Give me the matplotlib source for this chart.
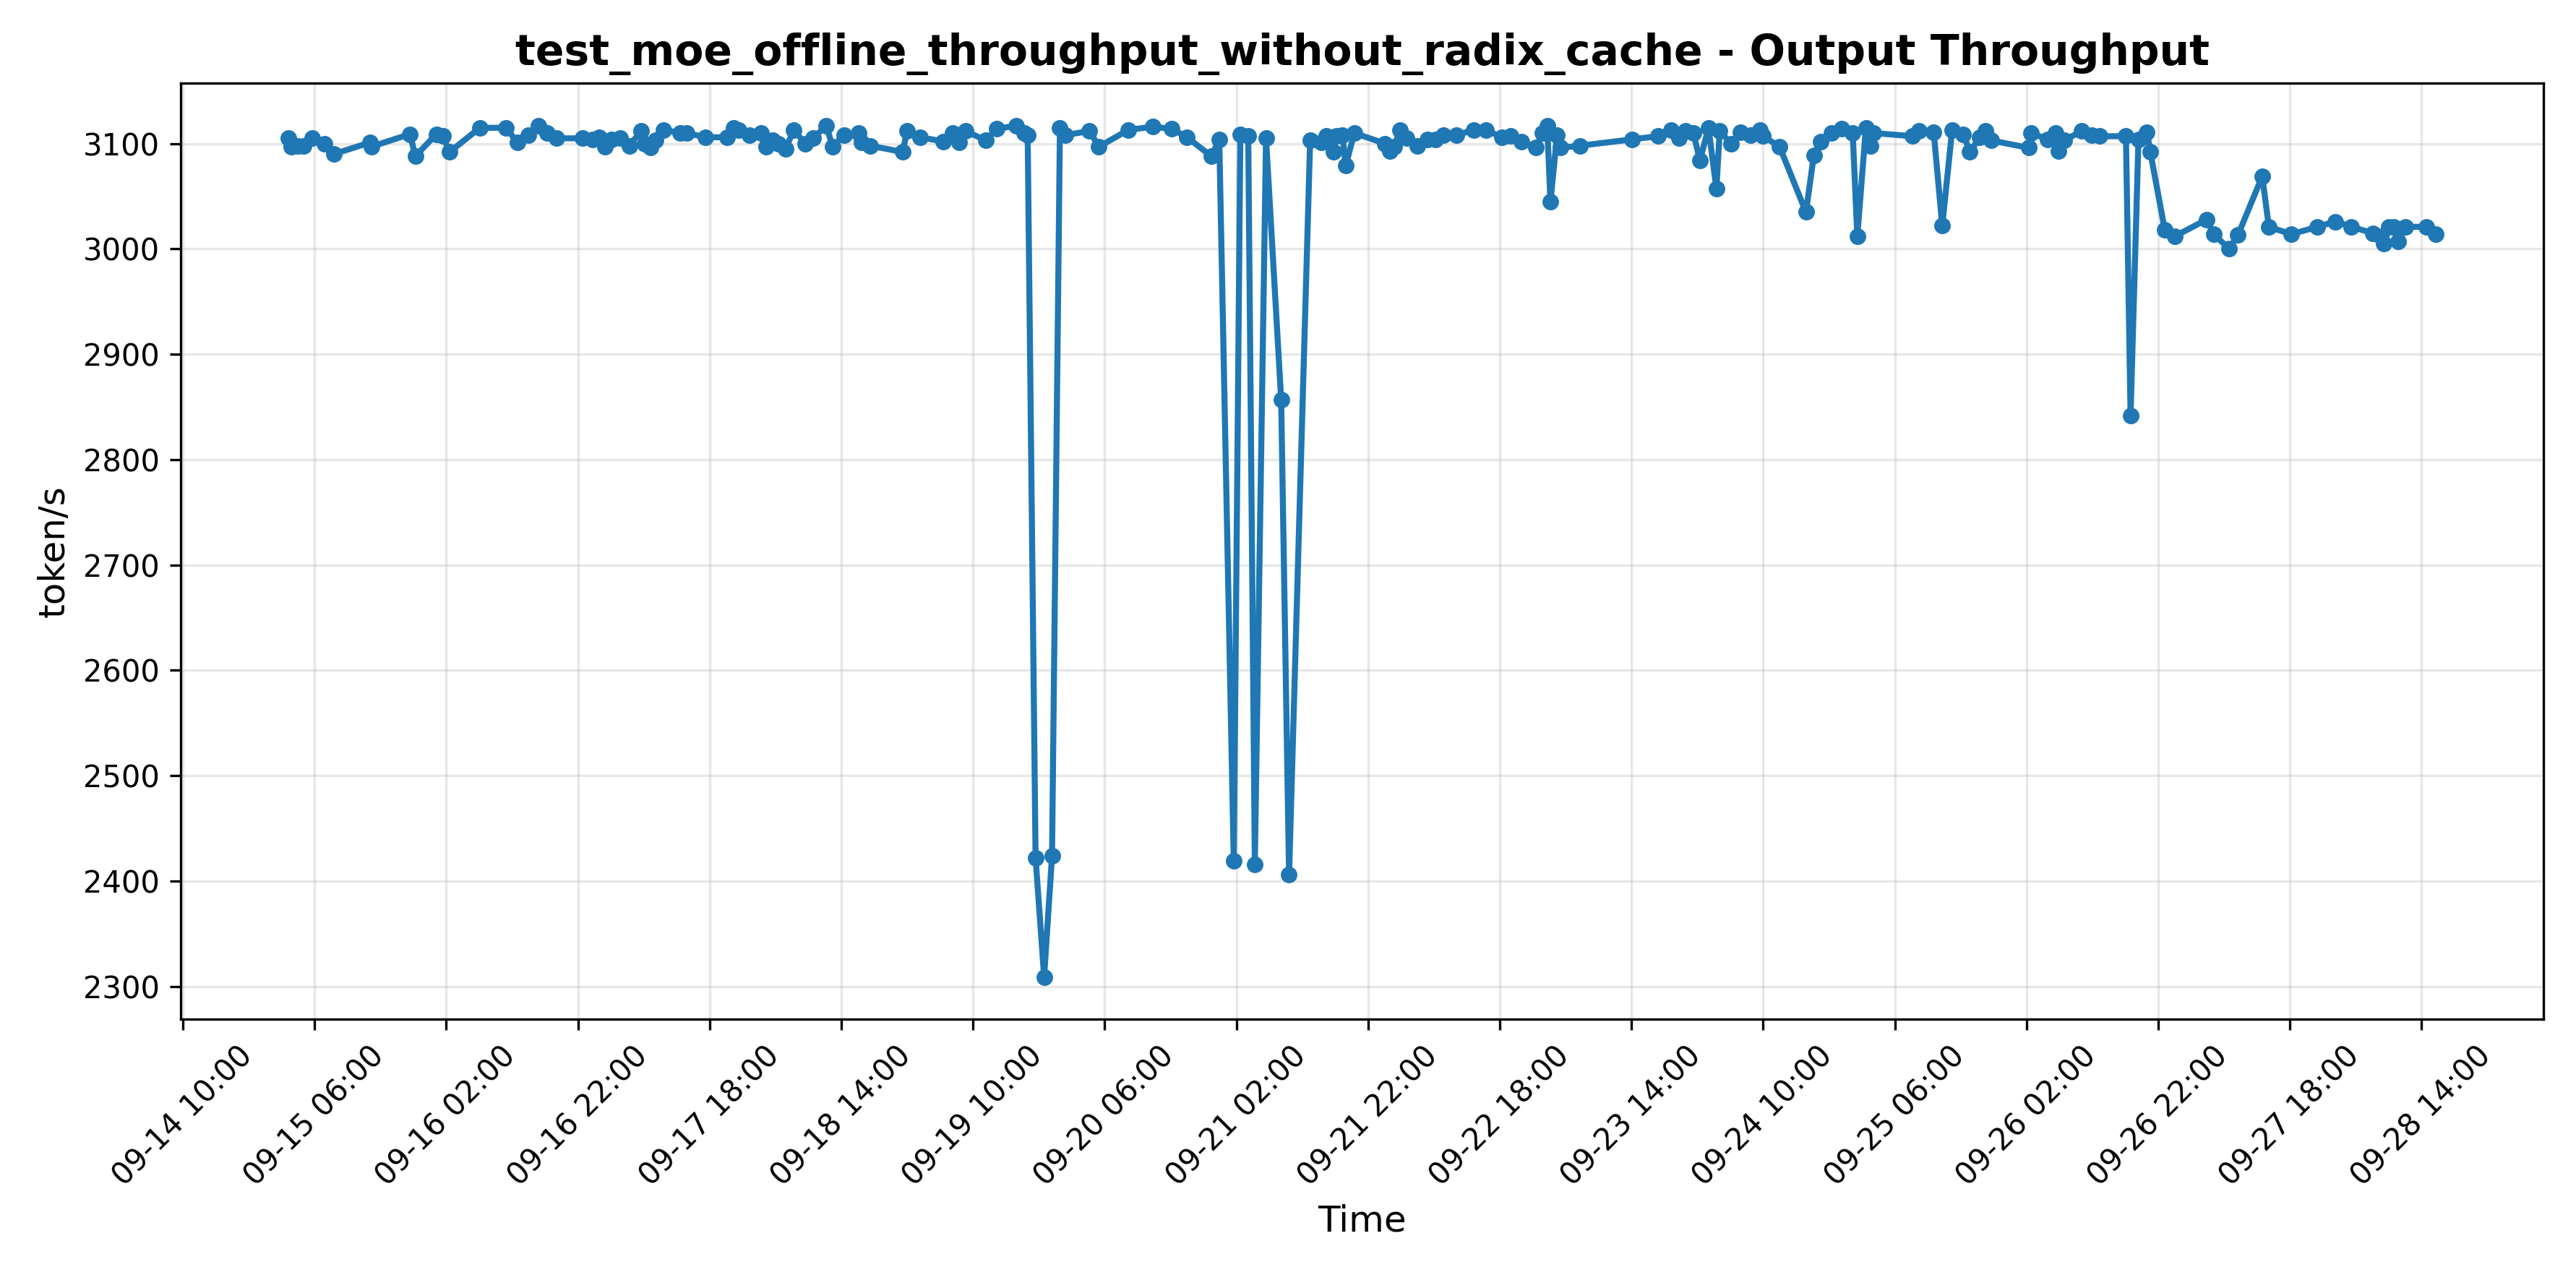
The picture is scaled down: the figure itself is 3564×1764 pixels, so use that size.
import matplotlib
matplotlib.use('Agg')
import matplotlib.pyplot as plt
import matplotlib.dates as mdates
import pandas as pd

START = pd.Timestamp('2025-09-14 10:00')

# hours since 09-14 10:00
hours = [16.0, 16.5, 17.5, 18.3, 19.7, 21.5, 22.9, 28.4, 28.6, 34.5, 35.3, 38.5, 39.5, 40.5,
         45.1, 49.1, 50.8, 52.5, 54.0, 55.3, 56.7, 60.7, 62.2, 63.2, 64.1, 65.1, 66.4, 67.8,
         69.6, 70.1, 71.0, 71.8, 73.0, 75.5, 76.5, 79.4, 82.6, 83.6, 84.4, 86.1, 87.8, 88.6,
         89.6, 90.5, 91.5, 92.8, 94.5, 95.7, 97.7, 98.7, 100.4, 102.6, 103.1, 104.4, 109.3,
         110.0, 112.0, 115.5, 116.9, 117.9, 118.9, 121.9, 123.6, 126.6, 127.8, 128.3, 129.5,
         130.8, 132.0, 133.2, 134.0, 137.7, 139.1, 143.6, 147.3, 150.2, 152.5, 156.2, 157.4,
         159.6, 160.6, 161.8, 162.8, 164.5, 166.8, 168.0, 171.2, 172.9, 173.7, 174.7, 175.2,
         176.1, 176.6, 177.9, 182.6, 183.3, 184.0, 184.8, 185.8, 187.5, 189.0, 190.2, 191.4,
         193.4, 196.1, 197.9, 200.3, 201.6, 203.3, 205.5, 206.5, 207.2, 207.7, 208.7, 209.2,
         212.2, 220.1, 224.0, 226.0, 227.2, 228.2, 229.4, 230.4, 231.7, 232.9, 233.4, 235.1,
         236.6, 238.1, 239.5, 240.0, 242.5, 246.5, 247.7, 248.7, 250.4, 251.9, 253.6, 254.3,
         255.6, 256.3, 256.8, 262.7, 263.7, 265.9, 267.2, 268.7, 270.4, 271.4, 272.9, 273.8,
         274.6, 280.3, 280.7, 283.2, 284.4, 284.9, 285.7, 288.4, 289.9, 291.1, 295.1, 295.8,
         297.0, 298.3, 298.8, 301.0, 302.5, 307.4, 308.4, 310.8, 312.1, 315.8, 316.8, 320.2,
         324.2, 326.9, 329.3, 332.6, 333.8, 334.3, 335.0, 335.8, 336.5, 337.5, 340.7, 342.2]

throughput = [3105, 3097, 3098, 3098, 3105, 3100, 3090, 3101, 3097, 3109, 3088, 3109, 3107, 3092,
              3115, 3115, 3101, 3108, 3117, 3110, 3105, 3105, 3104, 3106, 3097, 3104, 3105, 3098,
              3112, 3100, 3096, 3103, 3113, 3110, 3110, 3106, 3106, 3115, 3113, 3108, 3110, 3097,
              3103, 3100, 3095, 3113, 3100, 3105, 3117, 3097, 3108, 3110, 3101, 3098, 3092,
              3112, 3106, 3102, 3110, 3101, 3112, 3103, 3114, 3117, 3110, 3108, 2422,
              2309, 2424, 3115, 3108, 3112, 3097, 3113, 3116, 3114, 3106, 3088, 3104,
              2419, 3109, 3107, 2416, 3105, 2857, 2406, 3103, 3101, 3107, 3092, 3107,
              3108, 3079, 3110, 3100, 3093, 3097, 3113, 3105, 3098, 3104, 3104, 3108,
              3108, 3113, 3113, 3106, 3107, 3102, 3096, 3110, 3117, 3045, 3108, 3096,
              3098, 3104, 3107, 3113, 3105, 3112, 3110, 3084, 3115, 3057, 3112, 3100,
              3111, 3108, 3113, 3107, 3097, 3035, 3089, 3102, 3110, 3114, 3110, 3012,
              3115, 3098, 3110, 3107, 3112, 3111, 3022, 3113, 3109, 3092, 3106, 3112,
              3103, 3096, 3110, 3104, 3110, 3093, 3103, 3112, 3108, 3107, 3107, 2842,
              3104, 3111, 3092, 3018, 3012, 3028, 3014, 3000, 3013, 3069, 3021, 3014,
              3021, 3026, 3021, 3015, 3012, 3005, 3021, 3021, 3007, 3021, 3021, 3014]

times = [START + pd.Timedelta(hours=h) for h in hours]
tick_times = pd.date_range(START, periods=18, freq='20h')

fig, ax = plt.subplots(figsize=(11.88, 5.88))
ax.plot(times, throughput, marker='o', linewidth=2, markersize=4.5, color='#1f77b4')
ax.set_title('test_moe_offline_throughput_without_radix_cache - Output Throughput',
             fontsize=14, fontweight='bold')
ax.set_xlabel('Time', fontsize=12)
ax.set_ylabel('token/s', fontsize=12)
ax.grid(True, alpha=0.3)
ax.set_xticks(tick_times)
ax.xaxis.set_major_formatter(mdates.DateFormatter('%m-%d %H:%M'))
plt.setp(ax.get_xticklabels(), rotation=45)
fig.tight_layout()
fig.savefig('out.png', dpi=300)
